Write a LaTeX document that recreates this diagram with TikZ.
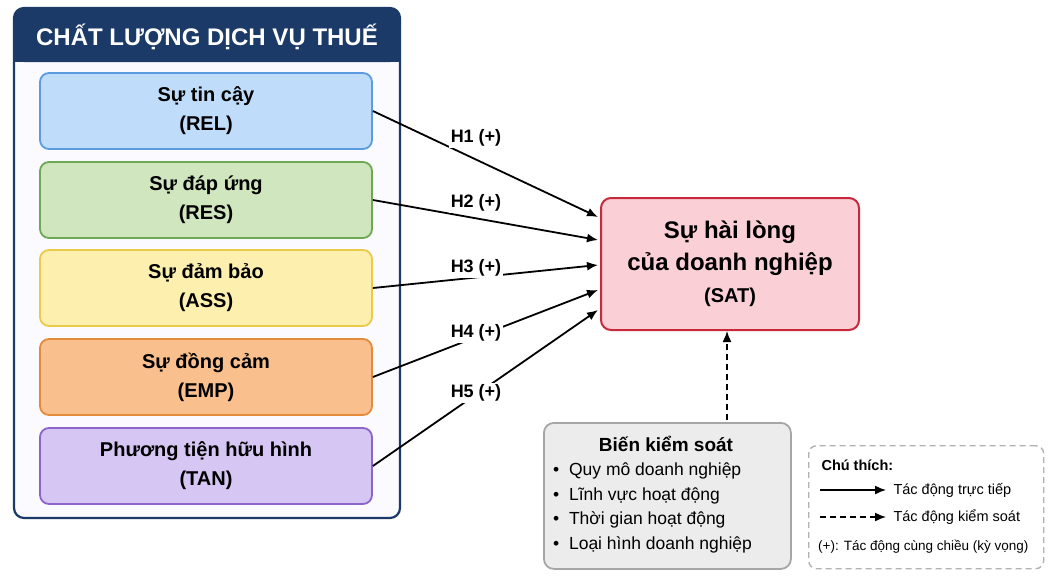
\documentclass[tikz,border=0pt]{standalone}
\usepackage{fontspec}
\setmainfont{Liberation Sans}
\usetikzlibrary{arrows.meta}
\definecolor{navy}{HTML}{1B3A68}
\definecolor{bD}{HTML}{5B9BE0}\definecolor{bF}{HTML}{BFDDFB}
\definecolor{gD}{HTML}{6FA852}\definecolor{gF}{HTML}{CFE6BE}
\definecolor{yD}{HTML}{EBC94A}\definecolor{yF}{HTML}{FDF0AE}
\definecolor{oD}{HTML}{E58A3A}\definecolor{oF}{HTML}{F9C08E}
\definecolor{vD}{HTML}{8D64C9}\definecolor{vF}{HTML}{D6C6F3}
\definecolor{rD}{HTML}{C8283C}\definecolor{rF}{HTML}{FAD0D6}
\tikzset{x=1pt,y=-1pt,
 fac/.style={draw=#1,line width=1.8pt,rounded corners=9pt,minimum width=332pt,minimum height=76pt,align=center,font=\fontsize{20}{29}\selectfont\bfseries},
 arr/.style={-{Latex[length=11pt,width=9pt]},line width=1.8pt},
 dsh/.style={dash pattern=on 6pt off 4pt},
 hl/.style={fill=white,font=\fontsize{18}{20}\selectfont\bfseries,inner sep=2pt}}
\begin{document}
\begin{tikzpicture}
\useasboundingbox (0,0) rectangle (1054,576);
\fill[white] (0,0) rectangle (1054,576);
\draw[navy,line width=2.2pt,fill=blue!2,rounded corners=10pt] (14,8) rectangle (400,518);
\fill[navy,rounded corners=10pt] (14,8) rectangle (400,62);
\fill[navy] (14,40) rectangle (400,62);
\node[text=white,font=\fontsize{24}{28}\selectfont\bfseries] (title) at (207,37) {CHẤT LƯỢNG DỊCH VỤ THUẾ};
\node[fac=bD,fill=bF] (rel) at (206,111) {Sự tin cậy\\(REL)};
\node[fac=gD,fill=gF] (res) at (206,200) {Sự đáp ứng\\(RES)};
\node[fac=yD,fill=yF] (ass) at (206,288) {Sự đảm bảo\\(ASS)};
\node[fac=oD,fill=oF] (emp) at (206,377) {Sự đồng cảm\\(EMP)};
\node[fac=vD,fill=vF] (tan) at (206,466) {Phương tiện hữu hình\\(TAN)};
\node[draw=rD,line width=2pt,fill=rF,rounded corners=10pt,minimum width=258pt,minimum height=132pt,align=center,font=\fontsize{24}{32}\selectfont\bfseries] (sat) at (730,264) {Sự hài lòng\\của doanh nghiệp\\{\fontsize{20}{24}\selectfont (SAT)}};
\coordinate (s1) at (598,217);\coordinate (s2) at (598,240);\coordinate (s3) at (598,265);\coordinate (s4) at (598,290);\coordinate (s5) at (598,310);
\draw[arr] (rel.east) -- (s1);
\draw[arr] (res.east) -- (s2);
\draw[arr] (ass.east) -- (s3);
\draw[arr] (emp.east) -- (s4);
\draw[arr] (tan.east) -- (s5);
\node[hl] (h1) at (476,138) {H1 (+)};
\node[hl] (h2) at (476,203) {H2 (+)};
\node[hl] (h3) at (476,268) {H3 (+)};
\node[hl] (h4) at (476,333) {H4 (+)};
\node[hl] (h5) at (476,393) {H5 (+)};
\node[draw=gray!70,line width=1.8pt,fill=gray!15,rounded corners=10pt,minimum width=247pt,minimum height=146pt,anchor=north west,inner sep=0pt] (ctl) at (543,422) {};
\node[font=\fontsize{19}{20}\selectfont\bfseries] (ctlt) at (666,444) {Biến kiểm soát};
\node[anchor=north west,align=left,font=\fontsize{17.5}{24.5}\selectfont,inner sep=0pt] (ctll) at (553,463) {•\ \ Quy mô doanh nghiệp\\•\ \ Lĩnh vực hoạt động\\•\ \ Thời gian hoạt động\\•\ \ Loại hình doanh nghiệp};
\coordinate (ct) at (727,420);
\draw[arr,dsh,line width=1.5pt] (ct) -- (ct |- sat.south);
\node[draw=gray!60,dsh,line width=1.4pt,rounded corners=8pt,minimum width=235pt,minimum height=123pt,anchor=north west,inner sep=0pt] (leg) at (808,445) {};
\node[anchor=west,font=\fontsize{14.5}{16}\selectfont\bfseries] (legt) at (818,465) {Chú thích:};
\coordinate (la) at (820,490);\coordinate (lb) at (886,490);
\coordinate (lc) at (820,517);\coordinate (ld) at (886,517);
\draw[arr,line width=1.5pt] (la) -- (lb);
\draw[arr,dsh,line width=1.5pt] (lc) -- (ld);
\node[anchor=west,font=\fontsize{14.5}{16}\selectfont] (l1) at (890,490) {Tác động trực tiếp};
\node[anchor=west,font=\fontsize{14.5}{16}\selectfont] (l2) at (890,517) {Tác động kiểm soát};
\node[anchor=west,font=\fontsize{13.5}{16}\selectfont,inner sep=0pt] (l3) at (818,547) {(+): Tác động cùng chiều (kỳ vọng)};
\end{tikzpicture}
\end{document}
